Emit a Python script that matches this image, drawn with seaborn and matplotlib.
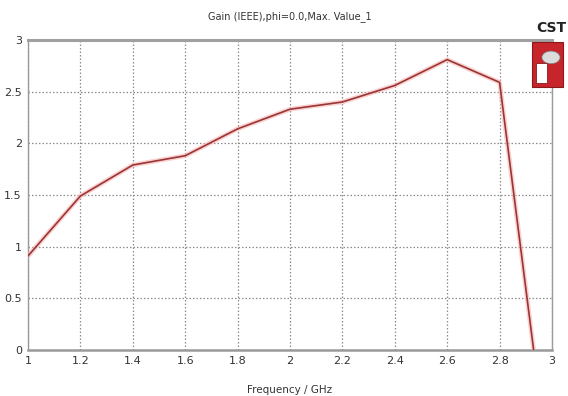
import matplotlib
matplotlib.use("Agg")
import matplotlib.pyplot as plt
import seaborn as sns
import pandas as pd
from matplotlib.patches import Rectangle, Circle

freq = [1.0, 1.2, 1.4, 1.6, 1.8, 2.0, 2.2, 2.4, 2.6, 2.8, 2.93]
gain = [0.91, 1.49, 1.79, 1.88, 2.14, 2.33, 2.40, 2.56, 2.81, 2.59, 0.0]
x_ticks = [1, 1.2, 1.4, 1.6, 1.8, 2, 2.2, 2.4, 2.6, 2.8, 3]
x_labels = ["1", "1.2", "1.4", "1.6", "1.8", "2", "2.2", "2.4", "2.6", "2.8", "3"]
y_ticks = [0, 0.5, 1, 1.5, 2, 2.5, 3]
y_labels = ["0", "0.5", "1", "1.5", "2", "2.5", "3"]

sns.set_theme(style="white")
plt.rcParams['font.family'] = ['Liberation Sans Narrow', 'DejaVu Sans']

df = pd.DataFrame({"Frequency": freq, "Gain": gain})

fig = plt.figure(figsize=(5.68, 3.96), dpi=100)
ax = fig.add_axes([0.0493, 0.1162, 0.9225, 0.7828])

# glow
sns.lineplot(data=df, x="Frequency", y="Gain", ax=ax, color="#f6b4b4",
             linewidth=3.4, alpha=0.6, zorder=3)
sns.lineplot(data=df, x="Frequency", y="Gain", ax=ax, color="#9c3434",
             linewidth=1.2, zorder=4)

ax.set_xlim(1, 3)
ax.set_ylim(0, 3)
ax.set_xticks(x_ticks)
ax.set_xticklabels(x_labels)
ax.set_yticks(y_ticks)
ax.set_yticklabels(y_labels)
ax.grid(True, linestyle=(0, (1.2, 1.6)), color="#8c8c8c", linewidth=0.9)
ax.tick_params(axis="both", labelsize=8, length=3, width=0.8,
               direction="inout", pad=3, colors="#888888", labelcolor="#333333")
for side in ["left", "right", "bottom"]:
    ax.spines[side].set_color("#9a9a9a")
    ax.spines[side].set_linewidth(1.0)
ax.spines["top"].set_color("#a0a0a0")
ax.spines["top"].set_linewidth(2.2)
ax.spines["bottom"].set_linewidth(1.8)

ax.set_xlabel("")
ax.set_ylabel("")
fig.text(0.51, 0.003, "Frequency / GHz", ha="center", va="bottom", fontsize=7.5,
         color="#333333")
fig.text(0.51, 0.957, "Gain (IEEE),phi=0.0,Max. Value_1", ha="center",
         va="center", fontsize=7, color="#333333")

# CST logo
fig.text(0.998, 0.93, "CST", ha="right", va="center", fontsize=10,
         fontweight="bold", color="#222222", family=["DejaVu Sans"])
fig.patches.append(Rectangle((0.937, 0.78), 0.055, 0.115, transform=fig.transFigure,
                             facecolor="#c8242c", edgecolor="#8a1a1a", lw=0.8,
                             zorder=5))
fig.patches.append(Circle((0.970, 0.855), 0.016, transform=fig.transFigure,
                          facecolor="#dcdcdc", edgecolor="#777777", lw=0.5,
                          zorder=6))
fig.patches.append(Rectangle((0.943, 0.79), 0.02, 0.05, transform=fig.transFigure,
                             facecolor="white", edgecolor="#8a1a1a", lw=0.6,
                             zorder=7))

fig.savefig("out.png", dpi=100)
